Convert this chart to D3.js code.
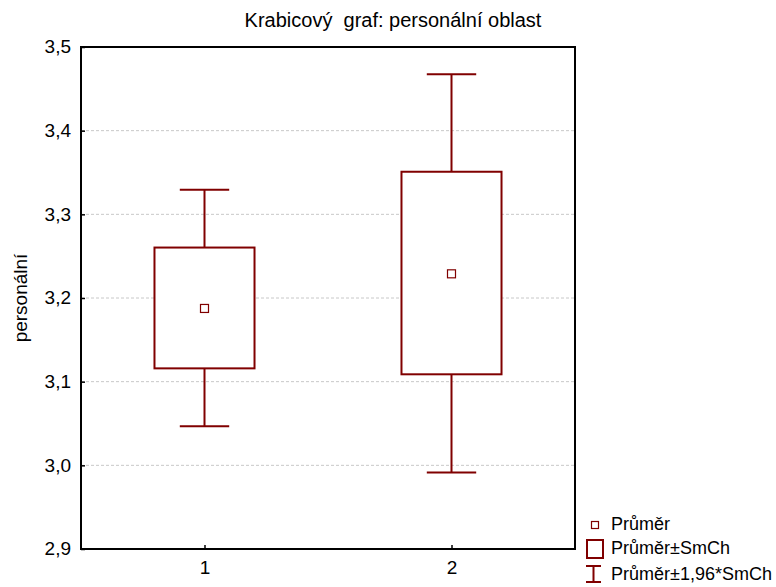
<!DOCTYPE html>
<html>
<head>
<meta charset="utf-8">
<script src="https://cdn.jsdelivr.net/npm/d3@7"></script>
<style>
  body { margin: 0; background: #fff; }
  text { font-family: "Liberation Sans", Arial, sans-serif; fill: #000; }
</style>
</head>
<body>
<div id="chart"></div>
<script>
// data
var groups = [1, 2];
var means = [3.1875, 3.2289];
var seLow = [3.1159, 3.1088];
var seHigh = [3.2603, 3.3509];
var ciLow = [3.0467, 2.9915];
var ciHigh = [3.3294, 3.4675];
var yTicks = [2.9, 3.0, 3.1, 3.2, 3.3, 3.4, 3.5];
var legendLabels = ["Průměr", "Průměr±SmCh", "Průměr±1,96*SmCh"];

var width = 776, height = 587;
var plotLeft = 81, plotRight = 575, plotTop = 47, plotBottom = 549;
var red = "#800000";

var svg = d3.select("#chart")
    .append("svg")
    .attr("width", width)
    .attr("height", height)

var x = d3.scaleLinear().domain([0.5, 2.5]).range([plotLeft, plotRight]);
var y = d3.scaleLinear().domain([2.9, 3.5]).range([plotBottom, plotTop]);

// gridlines
svg.append("g")
    .selectAll("line")
    .data(yTicks.slice(1, -1))
    .enter()
    .append("line")
    .attr("x1", plotLeft).attr("x2", plotRight)
    .attr("y1", function(d){ return y(d); })
    .attr("y2", function(d){ return y(d); })
    .attr("stroke", "#c8c8c8")
    .attr("stroke-dasharray", "3,2")

// frame
svg.append("rect")
    .attr("x", plotLeft).attr("y", plotTop)
    .attr("width", plotRight - plotLeft).attr("height", plotBottom - plotTop)
    .attr("fill", "none")
    .attr("stroke", "#000")
    .attr("stroke-width", 2)

// y axis
var yAxis = d3.axisLeft(y).tickValues(yTicks).tickSizeInner(-4).tickSizeOuter(0).tickPadding(10)
    .tickFormat(function(d){ return d3.format(".1f")(d).replace(".", ","); });
var gy = svg.append("g").attr("transform", "translate(" + plotLeft + ",0)").call(yAxis);
gy.select(".domain").remove();
gy.selectAll("line").attr("stroke", "#000").attr("stroke-width", 1.5);
gy.selectAll("text").style("font-size", "19px").attr("dy", "0.3em");

// x axis
var xAxis = d3.axisBottom(x).tickValues(groups).tickSizeInner(-4).tickSizeOuter(0).tickPadding(12)
    .tickFormat(d3.format("d"));
var gx = svg.append("g").attr("transform", "translate(0," + plotBottom + ")").call(xAxis);
gx.select(".domain").remove();
gx.selectAll("line").attr("stroke", "#000").attr("stroke-width", 1.5);
gx.selectAll("text").style("font-size", "19px");

var boxW = x(1.405) - x(1);
var capW = x(1.2) - x(1);

var g = svg.append("g")
    .selectAll("g")
    .data(groups)
    .enter()
    .append("g")

// whiskers
g.append("line")
    .attr("x1", function(d){ return x(d); }).attr("x2", function(d){ return x(d); })
    .attr("y1", function(d, i){ return y(ciHigh[i]); })
    .attr("y2", function(d, i){ return y(ciLow[i]); })
    .attr("stroke", red).attr("stroke-width", 2)
g.append("line")
    .attr("x1", function(d){ return x(d) - capW / 2; }).attr("x2", function(d){ return x(d) + capW / 2; })
    .attr("y1", function(d, i){ return y(ciHigh[i]); })
    .attr("y2", function(d, i){ return y(ciHigh[i]); })
    .attr("stroke", red).attr("stroke-width", 2)
g.append("line")
    .attr("x1", function(d){ return x(d) - capW / 2; }).attr("x2", function(d){ return x(d) + capW / 2; })
    .attr("y1", function(d, i){ return y(ciLow[i]); })
    .attr("y2", function(d, i){ return y(ciLow[i]); })
    .attr("stroke", red).attr("stroke-width", 2)

// boxes
g.append("rect")
    .attr("x", function(d){ return x(d) - boxW / 2; })
    .attr("y", function(d, i){ return y(seHigh[i]); })
    .attr("width", boxW)
    .attr("height", function(d, i){ return y(seLow[i]) - y(seHigh[i]); })
    .attr("fill", "#fff")
    .attr("stroke", red).attr("stroke-width", 2)

// means
g.append("rect")
    .attr("x", function(d){ return x(d) - 4; })
    .attr("y", function(d, i){ return y(means[i]) - 4; })
    .attr("width", 8).attr("height", 8)
    .attr("fill", "#fff")
    .attr("stroke", red).attr("stroke-width", 1.2)

// title and axis label
svg.append("text")
    .attr("x", 393).attr("y", 27)
    .attr("text-anchor", "middle")
    .style("font-size", "20px")
    .style("white-space", "pre")
    .text("Krabicový  graf: personální oblast")

svg.append("text")
    .attr("transform", "translate(27,298) rotate(-90)")
    .attr("text-anchor", "middle")
    .style("font-size", "19px")
    .text("personální")

// legend
var lg = svg.append("g");
lg.append("rect").attr("x", 591.5).attr("y", 521.5).attr("width", 7).attr("height", 7)
    .attr("fill", "#fff").attr("stroke", red).attr("stroke-width", 1.2);
lg.append("rect").attr("x", 587).attr("y", 540).attr("width", 16).attr("height", 18)
    .attr("fill", "#fff").attr("stroke", red).attr("stroke-width", 2);
lg.append("path").attr("d", "M586,566H601M593.5,566V582M586,582H601")
    .attr("fill", "none").attr("stroke", red).attr("stroke-width", 2);
lg.selectAll("text")
    .data(legendLabels)
    .enter()
    .append("text")
    .attr("x", 611)
    .attr("y", function(d, i){ return [530, 554, 580][i]; })
    .style("font-size", "18px")
    .text(function(d){ return d; })
</script>
</body>
</html>
